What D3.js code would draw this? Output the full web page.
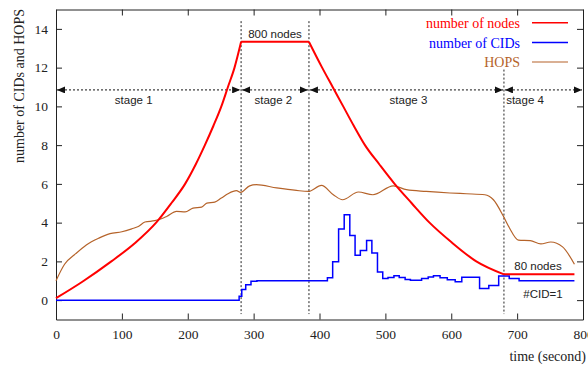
<!DOCTYPE html>
<html><head><meta charset="utf-8">
<script src="https://cdn.jsdelivr.net/npm/d3@7/dist/d3.min.js"></script>
<style>body{margin:0;background:#fff} svg{display:block}</style>
</head><body><svg id="c" width="588" height="369"></svg>
<script>
// ---------- data ----------
const xTicks = [0, 100, 200, 300, 400, 500, 600, 700, 800];
const yTicks = [0, 2, 4, 6, 8, 10, 12, 14];

// number of nodes (scaled: 800 nodes = 13.33)
const nodesT = [0, 40, 84, 120, 152, 175, 196, 212, 226, 239, 251, 261, 271, 281, 384, 404, 420, 436, 452, 469, 491, 514, 540, 567, 600, 638, 680, 787];
const nodesV = [0.1, 0.95, 2, 2.95, 4, 5, 6, 7, 8, 9, 10, 11, 12, 13.33, 13.33, 12, 11, 10, 9, 8, 7, 6, 5, 4, 3, 2, 1.33, 1.33];

// number of CIDs (step values, held from each time)
const cidT = [0, 278, 282, 288, 296, 305, 412, 420, 429, 437.5, 446, 454, 462, 471.5, 479.5, 488, 496, 504, 513, 521, 530, 538, 555, 565, 573, 583, 594, 606, 616, 643, 657, 672, 688, 703, 787];
const cidV = [0, 0.2, 0.55, 0.8, 0.97, 1.0, 1.15, 1.98, 3.67, 4.41, 3.34, 2.32, 2.56, 3.08, 2.43, 1.45, 1.12, 1.17, 1.26, 1.17, 1.07, 1.02, 1.12, 1.2, 1.26, 1.15, 1.05, 0.95, 1.18, 0.6, 0.75, 1.25, 1.12, 1.0, 1.0];

// HOPS
const hopsT = [0, 13, 30, 46, 65, 82, 100, 115, 125, 135, 150, 160, 168, 183, 196, 208, 221, 229, 241, 251, 261, 274, 280, 294, 304, 335, 365, 383, 403, 421, 435, 459, 481, 512, 532, 562, 598, 623, 651, 664, 679, 688, 702, 720, 736, 751, 769, 787];
const hopsV = [1.0, 1.85, 2.4, 2.85, 3.2, 3.43, 3.53, 3.68, 3.8, 4.03, 4.1, 4.2, 4.32, 4.58, 4.55, 4.75, 4.8, 5.01, 5.06, 5.27, 5.49, 5.65, 5.56, 5.9, 5.96, 5.79, 5.66, 5.61, 5.92, 5.44, 5.18, 5.58, 5.44, 5.9, 5.7, 5.61, 5.53, 5.49, 5.44, 5.18, 4.34, 3.75, 3.1, 3.07, 2.9, 3.0, 2.75, 1.85];

const stageBounds = [0, 281, 384, 680, 800];
const stageLabels = ["stage 1", "stage 2", "stage 3", "stage 4"];
const stageLabelT = [118, 330, 535, 712];
const stageArrowY = 10.85;
const markerLines = [281, 384, 680];
const markerTop = [14.4, 14.4, 11.9];

const seriesNames = ["number of nodes", "number of CIDs", "HOPS"];
const seriesColors = ["#ff0000", "#0000ff", "#b5632a"];

// ---------- chart ----------
const svg = d3.select("#c");
const x = d3.scaleLinear().domain([0, 800]).range([56, 583]);
const y = d3.scaleLinear().domain([-1, 15]).range([319.5, 9.5]);
const serif = "'Liberation Serif','Times New Roman',serif";
const sans = "'Liberation Sans',Arial,sans-serif";

// axes
function styleAxis(g) {
  g.selectAll("path.domain").attr("stroke", "#222");
  g.selectAll(".tick line").attr("stroke", "#222");
  g.selectAll("text").attr("font-family", serif).attr("font-size", 13.5).attr("fill", "#222");
}
svg.append("g").attr("transform", `translate(0,${y(-1)})`)
  .call(d3.axisBottom(x).tickValues(xTicks).tickSize(-6).tickSizeOuter(0).tickPadding(10).tickFormat(d3.format("d")))
  .call(styleAxis);
svg.append("g").attr("transform", `translate(0,${y(15)})`)
  .call(d3.axisTop(x).tickValues(xTicks).tickSize(-6).tickSizeOuter(0).tickFormat(""))
  .call(styleAxis);
svg.append("g").attr("transform", `translate(${x(0)},0)`)
  .call(d3.axisLeft(y).tickValues(yTicks).tickSize(-6).tickSizeOuter(0).tickPadding(8).tickFormat(d3.format("d")))
  .call(styleAxis);
svg.append("g").attr("transform", `translate(${x(800)},0)`)
  .call(d3.axisRight(y).tickValues(yTicks).tickSize(-6).tickSizeOuter(0).tickFormat(""))
  .call(styleAxis);

// axis labels
svg.append("text").attr("transform", `translate(24,86) rotate(-90)`)
  .attr("text-anchor", "middle").attr("font-family", serif).attr("font-size", 14).attr("fill", "#222")
  .text("number of CIDs and HOPS");
svg.append("text").attr("x", 586).attr("y", 361).attr("text-anchor", "end")
  .attr("font-family", serif).attr("font-size", 14).attr("fill", "#222").text("time (second)");

// vertical stage boundary lines
svg.append("g").selectAll("line").data(markerLines).join("line")
  .attr("x1", d => x(d)).attr("x2", d => x(d))
  .attr("y1", (d, i) => y(markerTop[i])).attr("y2", y(-0.72))
  .attr("stroke", "#222").attr("stroke-width", 1).attr("stroke-dasharray", "2,2");

// arrow markers
const defs = svg.append("defs");
defs.append("marker").attr("id", "ah").attr("viewBox", "0 0 8 7")
  .attr("refX", 8).attr("refY", 3.5).attr("markerWidth", 8).attr("markerHeight", 7)
  .attr("markerUnits", "userSpaceOnUse").attr("orient", "auto-start-reverse")
  .append("path").attr("d", "M0,0L8,3.5L0,7Z").attr("fill", "#111");

const stages = stageLabels.map((s, i) => ({ label: s, a: stageBounds[i], b: stageBounds[i + 1], t: stageLabelT[i] }));
svg.append("g").selectAll("line").data(stages).join("line")
  .attr("x1", d => x(d.a) + 1).attr("x2", d => x(d.b) - 1)
  .attr("y1", y(stageArrowY)).attr("y2", y(stageArrowY))
  .attr("stroke", "#111").attr("stroke-width", 1).attr("stroke-dasharray", "2,2")
  .attr("marker-start", "url(#ah)").attr("marker-end", "url(#ah)");
svg.append("g").selectAll("text").data(stages).join("text")
  .attr("x", d => x(d.t)).attr("y", y(stageArrowY) + 14).attr("text-anchor", "middle")
  .attr("font-family", sans).attr("font-size", 11.5).attr("fill", "#222").text(d => d.label);

// series
const nodes = nodesT.map((t, i) => ({ t, v: nodesV[i] }));
const cids = cidT.map((t, i) => ({ t, v: cidV[i] }));
const hops = hopsT.map((t, i) => ({ t, v: hopsV[i] }));

const lineM = d3.line().x(d => x(d.t)).y(d => y(d.v)).curve(d3.curveMonotoneX);
const lineS = d3.line().x(d => x(d.t)).y(d => y(d.v)).curve(d3.curveStepAfter);

// HOPS
svg.append("path").datum(hops).attr("d", lineM).attr("fill", "none")
  .attr("stroke", seriesColors[2]).attr("stroke-width", 1.2);
// CIDs
svg.append("path").datum(cids).attr("d", lineS).attr("fill", "none")
  .attr("stroke", seriesColors[1]).attr("stroke-width", 1.5);
// nodes: split into pieces at stage boundaries so the corners stay sharp
const cuts = [281, 384, 680];
let pieces = [], cur = [];
nodes.forEach(p => { cur.push(p); if (cuts.includes(p.t)) { pieces.push(cur); cur = [p]; } });
if (cur.length > 1) pieces.push(cur);
svg.append("g").selectAll("path").data(pieces).join("path")
  .attr("d", lineM).attr("fill", "none").attr("stroke", seriesColors[0]).attr("stroke-width", 2);

// annotations
svg.append("text").attr("x", 275).attr("y", 38).attr("text-anchor", "middle")
  .attr("font-family", sans).attr("font-size", 11.5).attr("fill", "#222").text("800 nodes");
svg.append("text").attr("x", 538).attr("y", 270).attr("text-anchor", "middle")
  .attr("font-family", sans).attr("font-size", 11.5).attr("fill", "#222").text("80 nodes");
svg.append("text").attr("x", 543).attr("y", 298).attr("text-anchor", "middle")
  .attr("font-family", sans).attr("font-size", 11.5).attr("fill", "#222").text("#CID=1");

// legend
const legY = [22.7, 42.5, 62];
const leg = svg.append("g").selectAll("g").data(seriesNames).join("g");
leg.append("text").attr("x", 520).attr("y", (d, i) => legY[i] + 5).attr("text-anchor", "end")
  .attr("font-family", serif).attr("font-size", 14).attr("fill", (d, i) => seriesColors[i]).text(d => d);
leg.append("line").attr("x1", 532).attr("x2", 568).attr("y1", (d, i) => legY[i]).attr("y2", (d, i) => legY[i])
  .attr("stroke", (d, i) => seriesColors[i]).attr("stroke-width", (d, i) => i === 2 ? 1.2 : 1.5);
</script>
</body></html>
